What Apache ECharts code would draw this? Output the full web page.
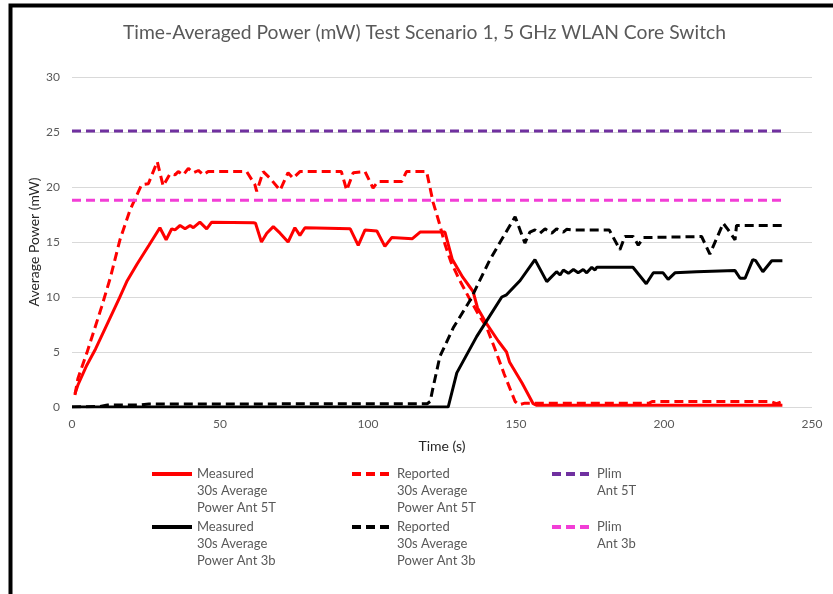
<!DOCTYPE html>
<html>
<head>
<meta charset="utf-8">
<script src="https://cdn.jsdelivr.net/npm/echarts@6/dist/echarts.min.js"></script>
<style>
  html, body { margin: 0; padding: 0; background: #fff; }
  #main { width: 833px; height: 594px; }
</style>
</head>
<body>
<div id="main"></div>
<script>
// values: [time (s), power (mW)]
var measured5T = [
  [1, 1.2], [2, 2.0], [5, 3.8], [8, 5.3], [12, 7.6], [16, 9.9], [18.5, 11.4], [22, 13.0], [26, 14.7],
  [29.7, 16.3], [31.8, 15.2], [33.7, 16.2], [34.8, 16.1], [36.5, 16.5], [38.2, 16.2], [39.9, 16.5],
  [41, 16.3], [43.2, 16.8], [45.5, 16.2], [47.2, 16.8], [61.3, 16.75], [62, 16.7], [64, 15.0],
  [65.8, 15.8], [68, 16.4], [70.3, 15.8], [73, 15.0], [75.3, 16.3], [77, 15.6], [78.7, 16.3],
  [94, 16.2], [96.7, 14.7], [99, 16.1], [103, 16.0], [105.7, 14.6], [108, 15.4], [115, 15.3],
  [117.6, 15.9], [126, 15.9], [128.5, 13.4], [132, 11.8], [135.5, 10.5], [137, 9.0], [140, 7.6],
  [144, 6.0], [146.8, 5.0], [147.8, 4.1], [152, 2.2], [155.8, 0.3], [157, 0.15], [240, 0.15]
];
var reported5T = [
  [1, 1.1], [2, 2.6], [5, 4.9], [10, 9.1], [13, 11.8], [16.2, 15.2], [19.6, 17.9], [23.5, 20.2],
  [25.8, 20.3], [28.8, 22.3], [30.8, 20.1], [33.1, 21.2], [34.8, 21.1], [35.9, 21.4], [37.6, 21.1],
  [39.3, 21.7], [41, 21.3], [42.7, 21.5], [44.4, 21.1], [46, 21.4], [59, 21.4], [61.8, 20.2],
  [62.4, 19.6], [64.6, 21.4], [66.9, 20.8], [70.3, 19.7], [73, 21.3], [74.7, 20.8], [77, 21.4],
  [91, 21.4], [92.8, 19.7], [95, 21.3], [99, 21.4], [101.7, 19.9], [103.4, 20.5], [111.4, 20.5],
  [113, 21.4], [119.8, 21.4], [122, 18.6], [124, 16.8], [126, 14.8], [128, 13.2], [131, 11.5],
  [134, 10.0], [137.8, 8.2], [140, 7.3], [143, 5.2], [146, 3.0], [149.7, 0.5], [151, 0.2],
  [153, 0.35], [195, 0.35], [196, 0.5], [236, 0.5], [238, 0.3], [240, 0.5]
];
var measured3b = [
  [0, 0], [127.1, 0], [130, 3.1], [136.7, 6.4], [145.2, 10.0], [146.8, 10.2], [151.4, 11.5],
  [156.4, 13.4], [160.4, 11.4], [163.7, 12.3], [164.9, 12.0], [166, 12.45], [167.7, 12.15],
  [169.4, 12.5], [171, 12.2], [172.7, 12.5], [173.9, 12.2], [175.6, 12.7], [176.7, 12.45],
  [177.3, 12.7], [189.5, 12.7], [194, 11.2], [196.4, 12.2], [199.7, 12.2], [201.4, 11.6],
  [203.7, 12.2], [211, 12.3], [224, 12.4], [225.7, 11.7], [227.4, 11.7], [230, 13.4], [231, 13.3],
  [233.4, 12.3], [236.4, 13.3], [240, 13.3]
];
var reported3b = [
  [0, 0], [9.5, 0.05], [12, 0.18], [23, 0.18], [26, 0.27], [120, 0.3], [121, 0.5], [122, 1.8],
  [124.3, 4.6], [128.8, 7.2], [134.5, 9.7], [141.2, 13.4], [149.7, 17.3], [153, 14.9], [154.7, 15.9],
  [156.4, 16.1], [158.1, 15.8], [159.8, 16.2], [162.1, 15.8], [163.7, 16.2], [166, 15.9],
  [167.1, 16.15], [169, 16.1], [181.5, 16.1], [185.1, 14.3], [186.8, 15.5], [189.6, 15.5],
  [191.3, 14.7], [193, 15.4], [212.7, 15.5], [215.5, 13.9], [220, 16.7], [221.7, 16.1],
  [224, 15.2], [224.5, 16.5], [240, 16.5]
];
var plim5T = [[0, 25.1], [240, 25.1]];
var plim3b = [[0, 18.8], [240, 18.8]];

var seriesNames = [
  'Measured\n30s Average\nPower Ant 5T',
  'Reported\n30s Average\nPower Ant 5T',
  'Plim\nAnt 5T',
  'Measured\n30s Average\nPower Ant 3b',
  'Reported\n30s Average\nPower Ant 3b',
  'Plim\nAnt 3b'
];

var font = 'Lato';
var grey = '#595959';
var dash = [9, 5];
var lineH = 17;

function lineSeries(name, data, color, type) {
  return {
    name: name,
    type: 'line',
    data: data,
    symbol: 'none',
    lineStyle: { color: color, width: 3, type: type },
    itemStyle: { color: color },
    z: 3
  };
}

// one legend per item so the columns line up like the original;
// the text is padded with blank lines so its first line sits on the icon
var legendSpots = [
  [150, 474], [350, 474], [550, 474],
  [150, 527], [350, 527], [550, 527]
];
var legends = seriesNames.map(function (name, i) {
  var n = name.split('\n').length;
  var blank = n - 1;
  var total = n + blank;
  return {
    data: [name],
    left: legendSpots[i][0],
    top: legendSpots[i][1] - total * lineH / 2,
    padding: 0,
    itemWidth: 40,
    itemHeight: 14,
    itemGap: 4,
    selectedMode: false,
    itemStyle: { opacity: 0 },
    lineStyle: { width: 4 },
    formatter: function (nm) {
      return new Array(blank + 1).join('\n') + nm;
    },
    textStyle: { fontFamily: font, fontSize: 13, color: grey, lineHeight: lineH }
  };
});

var chart = echarts.init(document.getElementById('main'));
chart.setOption({
  backgroundColor: '#fff',
  animation: false,
  title: {
    text: 'Time-Averaged Power (mW) Test Scenario 1, 5 GHz WLAN Core Switch',
    left: 118,
    top: 18,
    textStyle: { fontFamily: font, fontSize: 19.3, fontWeight: 'normal', color: grey }
  },
  legend: legends,
  grid: { left: 72, right: 21, top: 77, bottom: 187 },
  xAxis: {
    type: 'value',
    min: 0,
    max: 250,
    interval: 50,
    name: 'Time (s)',
    nameLocation: 'middle',
    nameGap: 32,
    nameMoveOverlap: false,
    nameTextStyle: { fontFamily: font, fontSize: 14, color: '#262626' },
    axisLine: { show: false },
    axisTick: { show: false },
    splitLine: { show: false },
    axisLabel: { fontFamily: font, fontSize: 12, color: grey, margin: 11 }
  },
  yAxis: {
    type: 'value',
    min: 0,
    max: 30,
    interval: 5,
    name: 'Average Power (mW)',
    nameLocation: 'middle',
    nameGap: 31,
    nameMoveOverlap: false,
    nameTextStyle: { fontFamily: font, fontSize: 14, color: '#262626' },
    axisLine: { show: false },
    axisTick: { show: false },
    splitLine: { lineStyle: { color: '#d9d9d9', width: 1 } },
    axisLabel: { fontFamily: font, fontSize: 12, color: grey, margin: 12 }
  },
  graphic: [{
    type: 'polyline',
    shape: { points: [[10.5, 594], [10.5, 5.5], [833, 5.5]] },
    style: { stroke: '#000', lineWidth: 4, fill: null },
    silent: true
  }],
  series: [
    lineSeries(seriesNames[0], measured5T, '#ff0000', 'solid'),
    lineSeries(seriesNames[1], reported5T, '#ff0000', dash),
    lineSeries(seriesNames[2], plim5T, '#7030a0', dash),
    lineSeries(seriesNames[3], measured3b, '#000000', 'solid'),
    lineSeries(seriesNames[4], reported3b, '#000000', dash),
    lineSeries(seriesNames[5], plim3b, '#f23ed6', dash)
  ]
});
</script>
</body>
</html>
